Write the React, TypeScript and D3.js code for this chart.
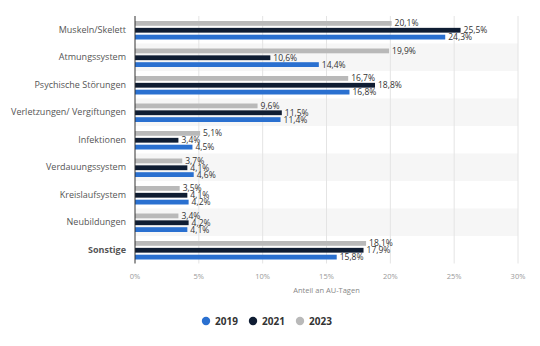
import React from "react";
import * as d3 from "d3";

const categories = [
  "Muskeln/Skelett",
  "Atmungssystem",
  "Psychische Störungen",
  "Verletzungen/ Vergiftungen",
  "Infektionen",
  "Verdauungssystem",
  "Kreislaufsystem",
  "Neubildungen",
  "Sonstige",
];
const years = ["2023", "2021", "2019"];
const values2023 = [20.1, 19.9, 16.7, 9.6, 5.1, 3.7, 3.5, 3.4, 18.1];
const values2021 = [25.5, 10.6, 18.8, 11.5, 3.4, 4.1, 4.1, 4.2, 17.9];
const values2019 = [24.3, 14.4, 16.8, 11.4, 4.5, 4.6, 4.2, 4.1, 15.8];
const xTicks = [0, 5, 10, 15, 20, 25, 30];
const legendYears = ["2019", "2021", "2023"];

const colors: Record<string, string> = {
  "2019": "#2a70d0",
  "2021": "#0f1d33",
  "2023": "#b9b9b9",
};

const W = 540;
const H = 346;
const left = 135;
const right = 518;
const top = 16;
const bottom = 263.5;
const font = "'Open Sans', 'DejaVu Sans', sans-serif";

export default function App() {
  const x = d3.scaleLinear().domain([0, 30]).range([left, right]);
  const y = d3.scaleBand<string>().domain(categories).range([top, bottom]);
  const inner = d3
    .scaleBand<string>()
    .domain(years)
    .range([5, 23.5])
    .paddingInner(0.3);
  const series: Record<string, number[]> = {
    "2023": values2023,
    "2021": values2021,
    "2019": values2019,
  };
  const fmt = (v: number) => v.toFixed(1).replace(".", ",") + "%";

  return (
    <svg
      width={W}
      height={H}
      style={{ position: "absolute", left: 0, top: 0, background: "#fff" }}
      fontFamily={font}
    >
      {categories.map((c, i) =>
        i % 2 === 1 ? (
          <rect
            key={"bg" + c}
            x={left}
            y={y(c)!}
            width={right - left}
            height={y.bandwidth()}
            fill="#f6f6f6"
          />
        ) : null
      )}
      {xTicks.slice(1).map((t) => (
        <line
          key={"g" + t}
          x1={x(t)}
          x2={x(t)}
          y1={top}
          y2={bottom}
          stroke="#e4e4e4"
          strokeWidth={1}
        />
      ))}
      {categories.map((c, i) => (
        <g key={c}>
          <text
            x={left - 9}
            y={y(c)! + y.bandwidth() / 2 + 3}
            textAnchor="end"
            fontSize={9}
            fill="#555"
            fontWeight={c === "Sonstige" ? 700 : 400}
          >
            {c}
          </text>
          {years.map((yr) => {
            const v = series[yr][i];
            const by = y(c)! + inner(yr)!;
            return (
              <g key={yr}>
                <rect
                  x={left}
                  y={by}
                  width={x(v) - left}
                  height={inner.bandwidth()}
                  fill={colors[yr]}
                />
                <text
                  x={x(v) + 3}
                  y={by + inner.bandwidth() / 2 + 3}
                  fontSize={8.5}
                  fill="#333"
                >
                  {fmt(v)}
                </text>
              </g>
            );
          })}
        </g>
      ))}
      <line x1={left} x2={left} y1={top} y2={bottom} stroke="#333" strokeWidth={1} />
      {xTicks.map((t) => (
        <text
          key={"t" + t}
          x={x(t)}
          y={279}
          textAnchor="middle"
          fontSize={7.5}
          fill="#999"
        >
          {t + "%"}
        </text>
      ))}
      <text
        x={(left + right) / 2}
        y={293}
        textAnchor="middle"
        fontSize={7.5}
        fill="#888"
      >
        Anteil an AU-Tagen
      </text>
      {legendYears.map((yr, i) => {
        const cx = 206 + i * 47;
        return (
          <g key={"l" + yr}>
            <circle cx={cx} cy={321} r={4.2} fill={colors[yr]} />
            <text x={cx + 9} y={324.5} fontSize={10} fontWeight={700} fill="#333">
              {yr}
            </text>
          </g>
        );
      })}
    </svg>
  );
}
